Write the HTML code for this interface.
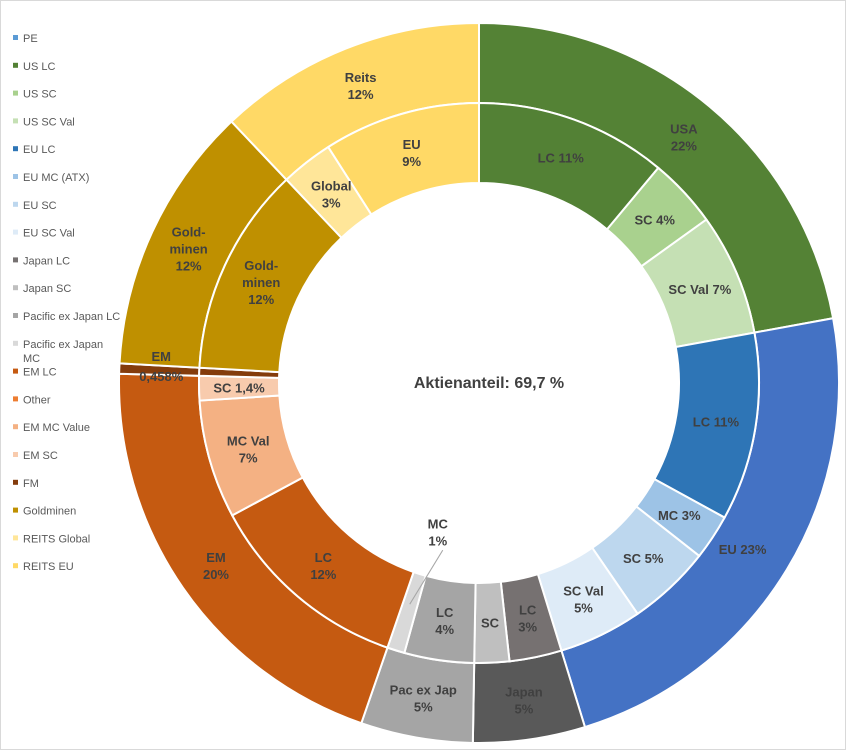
<!DOCTYPE html>
<html><head><meta charset="utf-8">
<style>
html,body{margin:0;padding:0;background:#fff;}
#wrap{position:relative;width:846px;height:750px;overflow:hidden;box-sizing:border-box;border:1px solid #d9d9d9;background:#fff;}
svg text{font-family:"Liberation Sans",sans-serif;}
</style></head>
<body>
<div id="wrap">
<svg id="chart" width="846" height="750"></svg>
</div>
<script>
const outerLabels=["PE","USA\n22%","EU 23%","Japan\n5%","Pac ex Jap\n5%","EM\n20%","EM\n0,458%","Gold-\nminen\n12%","Reits\n12%"];
const outerValues=[0,22,23,5,5,20,0.458,12,12];
const outerColors=["#5b9bd5","#548235","#4472c4","#595959","#a5a5a5","#c55a11","#843c0c","#bf9000","#ffd966"];
const innerLegend=["PE","US LC","US SC","US SC Val","EU LC","EU MC (ATX)","EU SC","EU SC Val","Japan LC","Japan SC","Pacific ex Japan LC","Pacific ex Japan\nMC","EM LC","Other","EM MC Value","EM SC","FM","Goldminen","REITS Global","REITS EU"];
const innerValues=[0,11,4,7,10.8,2.6,4.8,4.8,3,2,4,1,11.8,0,6.8,1.4,0.458,12,3,9];
const innerLabels=["","LC 11%","SC 4%","SC Val 7%","LC 11%","MC 3%","SC 5%","SC Val\n5%","LC\n3%","SC","LC\n4%","MC\n1%","LC\n12%","","MC Val\n7%","SC 1,4%","","Gold-\nminen\n12%","Global\n3%","EU\n9%"];
const innerColors=["#5b9bd5","#538135","#a9d18e","#c5e0b4","#2e75b6","#9dc3e6","#bdd7ee","#deebf7","#767171","#bfbfbf","#a5a5a5","#d9d9d9","#c55a11","#ed7d31","#f4b183","#f8cbad","#843c0c","#bf9000","#ffe699","#ffd966"];
const centerTitle="Aktienanteil: 69,7 %";

const NS="http://www.w3.org/2000/svg";
const svg=document.getElementById('chart');
const cx=478,cy=382,R0=200,R1=280,R2=360;
const pending=[];
function pt(a,r){return [cx+r*Math.sin(a),cy-r*Math.cos(a)];}
function arcPath(a0,a1,ri,ro){
  const large=(a1-a0)>Math.PI?1:0;
  const p1=pt(a0,ro),p2=pt(a1,ro),p3=pt(a1,ri),p4=pt(a0,ri);
  return `M${p1[0]},${p1[1]}A${ro},${ro} 0 ${large} 1 ${p2[0]},${p2[1]}L${p3[0]},${p3[1]}A${ri},${ri} 0 ${large} 0 ${p4[0]},${p4[1]}Z`;
}
function addText(x,y,str,name,lh){
  lh=lh||17;
  const lines=str.split("\n");
  const t=document.createElementNS(NS,'text');
  
  
  t.setAttribute('text-anchor','middle');
  t.setAttribute('font-size','13');
  t.setAttribute('font-weight','bold');
  t.setAttribute('fill','#404040');
  const y0=y-(lines.length-1)*lh/2+5;
  lines.forEach((l,i)=>{const s=document.createElementNS(NS,'tspan');s.setAttribute('x',x);s.setAttribute('y',y0+i*lh);s.textContent=l;t.appendChild(s);});
  svg.appendChild(t);
  return t;
}
function ring(values,colors,labels,ri,ro,prefix,overrides){
  const total=values.reduce((a,b)=>a+b,0);
  let acc=0;
  values.forEach((v,i)=>{
    const a0=acc/total*2*Math.PI;acc+=v;const a1=acc/total*2*Math.PI;
    if(v>0){
      const p=document.createElementNS(NS,'path');
      p.setAttribute('d',arcPath(a0,a1,ri,ro));
      p.setAttribute('fill',colors[i]);
      p.setAttribute('stroke','#fff');
      p.setAttribute('stroke-width','2');
      
      
      svg.appendChild(p);
    }
    if(labels[i] && v>0){
      const am=(a0+a1)/2;let [x,y]=pt(am,(ri+ro)/2);
      const o=overrides[i];
      pending.push(()=>{
        let X=x,Y=y,lh=17;
        if(o){
          X+=o[0];Y+=o[1];
          if(o[3]) lh=o[3];
          if(o[2]){
            const ln=document.createElementNS(NS,'line');
            ln.setAttribute('x1',X+5);ln.setAttribute('y1',Y+18);ln.setAttribute('x2',x+2);ln.setAttribute('y2',y-8);
            ln.setAttribute('stroke','#a6a6a6');ln.setAttribute('stroke-width','1');
            
            
            svg.appendChild(ln);
          }
        }
        addText(X,Y,labels[i],prefix+'-label-'+i,lh);
      });
    }
  });
}
ring(outerValues,outerColors,outerLabels,R1,R2,'outer',{2:[-10,0,false],6:[2,-4,false,20]});
ring(innerValues,innerColors,innerLabels,R0,R1,'inner',{11:[30,-80,true]});
pending.forEach(f=>f());
const ct=addText(cx+10,cy,centerTitle,'center-title');
ct.setAttribute('font-size','16');
// legend
innerLegend.forEach((name,i)=>{
  const y=37+i*27.8;
  const r=document.createElementNS(NS,'rect');
  r.setAttribute('x',12);r.setAttribute('y',y-3);r.setAttribute('width',5);r.setAttribute('height',5);
  r.setAttribute('fill',innerColors[i]);
  
  
  svg.appendChild(r);
  const lines=name.split("\n");
  const t=document.createElementNS(NS,'text');
  t.setAttribute('font-size','11');t.setAttribute('fill','#595959');
  
  
  lines.forEach((l,k)=>{const s=document.createElementNS(NS,'tspan');s.setAttribute('x',22);s.setAttribute('y',y+4+k*14);s.textContent=l;t.appendChild(s);});
  svg.appendChild(t);
});
</script>
</body></html>
